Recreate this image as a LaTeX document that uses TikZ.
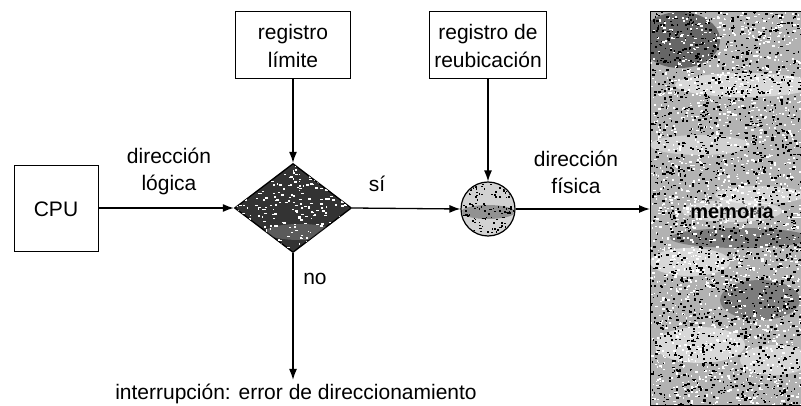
\documentclass[tikz,border=0pt]{standalone}
\usepackage{fontspec}
\setmainfont{Liberation Sans}
\usetikzlibrary{shapes.geometric,arrows.meta}
\begin{document}
\begin{tikzpicture}[x=1pt,y=-1pt,
  lbl/.style={font=\fontsize{21}{27}\selectfont, align=center, inner sep=0pt},
  regbox/.style={draw, line width=1pt, align=center, inner sep=0pt, font=\fontsize{21}{28}\selectfont},
  conn/.style={line width=1.3pt, -{Latex[length=11pt,width=8pt]}}]
\useasboundingbox (0,0) rectangle (801,406);
% memory block
\node[draw, line width=1.2pt, rectangle, minimum width=152pt, minimum height=394pt, anchor=north west, fill=gray!60, inner sep=0pt] (mem) at (650,11) {};
\begin{scope}
\clip (650.6,11.6) rectangle (801,404.4);
\fill[black!60] (680,40) ellipse [x radius=40pt, y radius=28pt];
\fill[white, opacity=0.5] (745,85) ellipse [x radius=70pt, y radius=12pt];
\fill[white, opacity=0.4] (700,145) ellipse [x radius=50pt, y radius=10pt];
\fill[white, opacity=0.45] (760,195) ellipse [x radius=45pt, y radius=9pt];
\fill[white, opacity=0.5] (690,262) ellipse [x radius=40pt, y radius=14pt];
\fill[white, opacity=0.5] (700,345) ellipse [x radius=45pt, y radius=18pt];
\fill[white, opacity=0.45] (775,360) ellipse [x radius=35pt, y radius=15pt];
\fill[black, opacity=0.3] (740,238) ellipse [x radius=70pt, y radius=10pt];
\fill[black, opacity=0.3] (760,300) ellipse [x radius=40pt, y radius=20pt];
\pgfmathsetseed{7}
\foreach \i in {1,...,1800} {
  \pgfmathsetmacro\xx{650+rnd*151}
  \pgfmathsetmacro\yy{11+rnd*394}
  \fill[white] (\xx,\yy) rectangle ++(1+rnd*2, 1+rnd*1.2);
}
\foreach \i in {1,...,1800} {
  \pgfmathsetmacro\xx{650+rnd*151}
  \pgfmathsetmacro\yy{11+rnd*394}
  \fill[black] (\xx,\yy) rectangle ++(1+rnd*2, 1+rnd*1.2);
}
\fill[white, opacity=0.45] (732,211) ellipse [x radius=50pt, y radius=11pt];
\end{scope}
\node[font=\fontsize{20}{24}\selectfont\bfseries, inner sep=0pt] (memlbl) at (732,211) {memoria};
% boxes
\node[regbox, minimum width=84pt, minimum height=86pt] (cpu) at (56,209) {CPU};
\node[regbox, minimum width=115pt, minimum height=67pt] (lim) at (293,45.5) {registro\\límite};
\node[regbox, minimum width=117pt, minimum height=67pt] (reu) at (488,45.5) {registro de\\reubicación};
% comparator and adder
\node[diamond, draw, line width=1.3pt, fill=black!80, minimum width=117pt, minimum height=89pt, inner sep=0pt] (cmp) at (293,208) {};
\begin{scope}
\clip (235,208) -- (293,164) -- (351,208) -- (293,252) -- cycle;
\fill[white, opacity=0.2] (300,232) ellipse [x radius=35pt, y radius=8pt];
\pgfmathsetseed{11}
\foreach \i in {1,...,260} {
  \pgfmathsetmacro\xx{235+rnd*116}
  \pgfmathsetmacro\yy{164+rnd*88}
  \fill[white] (\xx,\yy) rectangle ++(1+rnd*2.5, 1+rnd);
}
\end{scope}
\node[circle, draw, line width=1.2pt, fill=gray!35, minimum size=54pt, inner sep=0pt] (add) at (488,209) {};
\begin{scope}
\clip (488,209) circle [radius=26pt];
\fill[black, opacity=0.3] (488,212) ellipse [x radius=27pt, y radius=7pt];
\pgfmathsetseed{5}
\foreach \i in {1,...,120} {
  \pgfmathsetmacro\xx{462+rnd*52}
  \pgfmathsetmacro\yy{183+rnd*52}
  \fill[black] (\xx,\yy) rectangle ++(1+rnd*1.5, 1+rnd);
}
\end{scope}
% labels
\node[lbl] (dl) at (169,171) {dirección\\lógica};
\node[lbl] (df) at (576,172) {dirección\\física};
\node[lbl] (si) at (377,184) {sí};
\node[lbl] (no) at (315,279) {no};
\node[lbl] (err) at (296,394) {interrupción: error de direccionamiento};
% connectors
\draw[conn] (cpu.east |- cmp.west) -- (cmp.west);
\draw[conn] (cmp.east) -- (add.west);
\draw[conn] (add.east) -- (add.east -| mem.west);
\draw[conn] (lim.south) -- (cmp.north);
\draw[conn] (reu.south) -- (add.north);
\draw[conn] (cmp.south) -- ([yshift=4pt]cmp.south |- err.north);
\end{tikzpicture}
\end{document}
